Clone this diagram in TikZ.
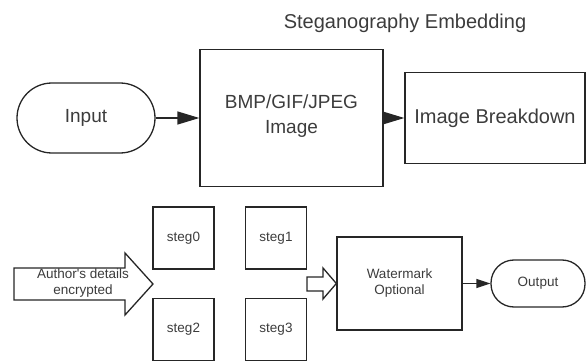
\documentclass[tikz,border=0pt]{standalone}
\usepackage{fontspec}
\setmainfont{Liberation Sans}
\usetikzlibrary{arrows.meta}
\definecolor{linegray}{HTML}{262626}
\definecolor{textgray}{HTML}{3C3C3C}

\begin{document}
\begin{tikzpicture}[x=1pt,y=-1pt,
  box/.style={draw=linegray,line width=1.3pt,text=textgray,align=center,inner sep=0pt},
  bigtext/.style={font=\fontsize{19}{25}\selectfont},
  smalltext/.style={font=\fontsize{13.5}{16}\selectfont},
  flow/.style={draw=linegray,line width=1.3pt,-{Triangle[length=22pt,width=13pt]}},
  smallflow/.style={draw=linegray,line width=1.3pt,-{Triangle[length=14pt,width=9pt]}},
  hollow/.style={draw=linegray,line width=1.3pt,fill=white,line join=miter}]
 \useasboundingbox (0,0) rectangle (587,361);
 \node[text=textgray,font=\fontsize{20}{24}\selectfont] (title) at (405,23) {Steganography Embedding}; %title
 % top row
 \node[box,bigtext,rounded corners=35pt,minimum width=138pt,minimum height=70pt] (input) at (86,118) {Input};
 \node[box,bigtext,minimum width=183pt,minimum height=137pt,text depth=8pt] (bmp) at (291.5,118) {BMP/GIF/JPEG\\Image};
 \node[box,font=\fontsize{20}{24}\selectfont,minimum width=180pt,minimum height=91pt] (ib) at (495,118) {Image Breakdown};
 \draw[flow] (input) -- (bmp);
 \draw[flow] (bmp) -- (ib);
 % bottom row
 \node[box,smalltext,minimum width=61pt,minimum height=62pt] (steg0) at (183.5,238) {steg0};
 \node[box,smalltext,minimum width=61pt,minimum height=62pt] (steg1) at (276,238) {steg1};
 \node[box,smalltext,minimum width=61pt,minimum height=62pt] (steg2) at (183.5,329.5) {steg2};
 \node[box,smalltext,minimum width=61pt,minimum height=62pt] (steg3) at (276,329.5) {steg3};
 \draw[hollow] (14,268) -- (125,268) -- (125,253) -- (153,284) -- (125,315) -- (125,300) -- (14,300) -- cycle; %author arrow
 \node[text=textgray,smalltext,align=center] (author) at (83,283) {Author\textquotesingle s details\\encrypted};
 \node[box,smalltext,minimum width=125pt,minimum height=93pt] (wm) at (399.5,283.5) {Watermark\\Optional};
 \draw[hollow] (307,277) -- (323,277) -- (323,268) -- (wm.west) -- (323,299) -- (323,291) -- (307,291) -- cycle; %into watermark
 \node[box,smalltext,rounded corners=23pt,minimum width=94pt,minimum height=47pt] (out) at (538,283.5) {Output};
 \draw[smallflow] (wm) -- (out);
\end{tikzpicture}
\end{document}
